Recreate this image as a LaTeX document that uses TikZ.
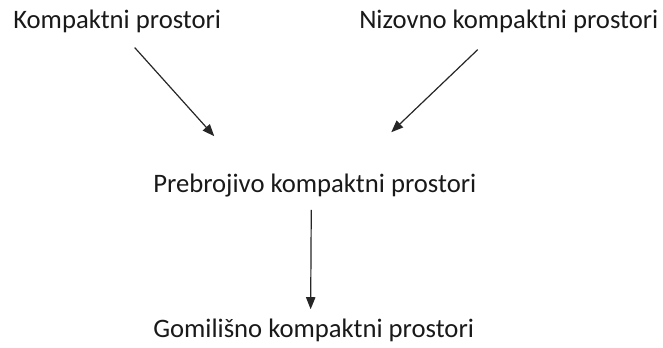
\documentclass[tikz,border=0pt]{standalone}
\usepackage{fontspec}
\setmainfont{Carlito}
\usetikzlibrary{arrows.meta}

\begin{document}
\begin{tikzpicture}[x=0.75pt, y=-0.75pt,
  space/.style={font=\fontsize{20}{24}\selectfont, text=black!90, inner sep=0pt, anchor=base west},
  implies/.style={-{Triangle[length=9pt, width=7pt]}, line width=0.9pt, black!85}
]
  \useasboundingbox (0,0) rectangle (663,347);

  \node[space] (kp) at (13, 28) {Kompaktni prostori};
  \node[space] (nk) at (359, 28) {Nizovno kompaktni prostori};
  \node[space] (pk) at (153, 192) {Prebrojivo kompaktni prostori};
  \node[space] (gk) at (153, 337) {Gomilišno kompaktni prostori};

  \draw[implies] ([shift={(17.5,15)}]kp.south) -- ([shift={(-100.5,-37)}]pk.north);
  \draw[implies] ([shift={(-31,17)}]nk.south) -- ([shift={(76.5,-41)}]pk.north);
  \draw[implies] ([shift={(-3.5,13)}]pk.south) -- ([shift={(-3,-9)}]gk.north);
\end{tikzpicture}
\end{document}
